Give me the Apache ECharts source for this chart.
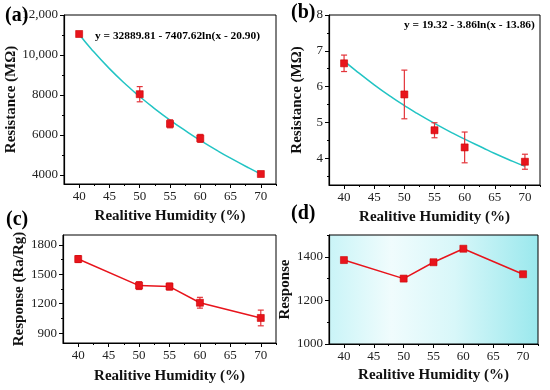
<!DOCTYPE html>
<html>
<head>
<meta charset="utf-8">
<script src="https://cdn.jsdelivr.net/npm/echarts@6/dist/echarts.min.js"></script>
<style>html,body{margin:0;padding:0;background:#fff}#c{width:550px;height:390px}</style>
</head>
<body>
<div id="c"></div>
<script>
// ---- data ----
const humidity = [40, 50, 55, 60, 70];
const xTickLabels = [40, 45, 50, 55, 60, 65, 70];
const xMinorTicks = [42.5, 47.5, 52.5, 57.5, 62.5, 67.5, 72.5];

// (a) resistance (MΩ)
const resistanceA = [11050, 8040, 6560, 5830, 4050];
const errorA = [60, 380, 200, 200, 50];
const fitXA = [40, 42, 45, 48, 50, 52, 55, 58, 60, 63, 65, 68, 70];
const fitYA = [11040, 10302, 9318, 8449, 7921, 7428, 6746, 6122, 5733, 5185, 4841, 4353, 4045];
const yTicksA = [4000, 6000, 8000, 10000, 12000];
const yMinorA = [5000, 7000, 9000, 11000];
const equationA = 'y = 32889.81 - 7407.62ln(x - 20.90)';

// (b) resistance (MΩ)
const resistanceB = [6.65, 5.78, 4.78, 4.30, 3.90];
const errorB = [0.23, 0.68, 0.21, 0.43, 0.21];
const fitXB = [40, 42, 45, 48, 50, 52, 55, 58, 60, 63, 65, 68, 70];
const fitYB = [6.72, 6.44, 6.05, 5.69, 5.47, 5.26, 4.97, 4.70, 4.53, 4.29, 4.13, 3.91, 3.77];
const yTicksB = [4, 5, 6, 7, 8];
const yMinorB = [3.5, 4.5, 5.5, 6.5, 7.5];
const equationB = 'y = 19.32 - 3.86ln(x - 13.86)';

// (c) response (Ra/Rg)
const responseC = [1655, 1385, 1375, 1210, 1055];
const errorC = [35, 40, 35, 55, 80];
const yTicksC = [900, 1200, 1500, 1800];
const yMinorC = [1050, 1350, 1650];

// (d) response
const responseD = [1385, 1300, 1375, 1437, 1320];
const yTicksD = [1000, 1200, 1400];
const yMinorD = [1100, 1300, 1500];

const xTitle = 'Realitive Humidity (%)';

// ---- styling ----
const SERIF = 'Liberation Serif';
const RED = '#e8141c';
const CYAN = '#22c4c4';
const INK = '#111';

const grids = [
  {left: 64, top: 15, width: 212, height: 169},
  {left: 329, top: 15, width: 211, height: 170},
  {left: 63, top: 235, width: 213, height: 108},
  {left: 329, top: 235, width: 209, height: 109,
   backgroundColor: new echarts.graphic.LinearGradient(0, 0, 1, 0, [
     {offset: 0, color: '#c9f4f7'},
     {offset: 0.3, color: '#f0fcfd'},
     {offset: 0.6, color: '#d8f7f9'},
     {offset: 1, color: '#9ae8ed'}
   ])}
].map(g => Object.assign({show: true, borderColor: '#000', borderWidth: 1, backgroundColor: 'transparent'}, g));

const panels = [
  {ymin: 3550, ymax: 12000, ticks: yTicksA, minor: yMinorA, name: 'Resistance (MΩ)', gap: 35,
   fmt: v => v >= 10000 ? String(v).replace(/(\d+)(\d{3})$/, '$1,$2') : String(v)},
  {ymin: 3.25, ymax: 8, ticks: yTicksB, minor: yMinorB, name: 'Resistance (MΩ)', gap: 24, fmt: v => String(v)},
  {ymin: 800, ymax: 1900, ticks: yTicksC, minor: yMinorC, name: 'Response (Ra/Rg)', gap: 34, fmt: v => String(v)},
  {ymin: 1000, ymax: 1500, ticks: yTicksD, minor: yMinorD, name: 'Response', gap: 31, fmt: v => String(v)}
];
const xNameGaps = [25, 25, 26, 24];

const xAxis = [], yAxis = [];
panels.forEach((p, i) => {
  xAxis.push({
    type: 'value', gridIndex: i, min: 37.5, max: 72.5,
    name: xTitle, nameLocation: 'middle', nameGap: xNameGaps[i],
    nameTextStyle: {fontFamily: SERIF, fontWeight: 'bold', fontSize: 15, color: INK},
    axisLine: {show: true, lineStyle: {color: '#000', width: 1.2}},
    axisTick: {show: true, inside: false, length: 4, customValues: xTickLabels, lineStyle: {color: '#000'}},
    axisLabel: {customValues: xTickLabels, margin: 6, fontFamily: SERIF, fontSize: 13, color: '#222'},
    splitLine: {show: false}
  });
  xAxis.push({
    type: 'value', gridIndex: i, min: 37.5, max: 72.5, position: 'bottom',
    axisLine: {show: false},
    axisTick: {show: true, length: 2, customValues: xMinorTicks, lineStyle: {color: '#000'}},
    axisLabel: {show: false}, splitLine: {show: false}
  });
  yAxis.push({
    type: 'value', gridIndex: i, min: p.ymin, max: p.ymax,
    name: p.name, nameLocation: 'middle', nameGap: p.gap, nameRotate: 90,
    nameTextStyle: {fontFamily: SERIF, fontWeight: 'bold', fontSize: 15, color: INK},
    axisLine: {show: true, lineStyle: {color: '#000', width: 1.2}},
    axisTick: {show: true, length: 4, customValues: p.ticks, lineStyle: {color: '#000'}},
    axisLabel: {customValues: p.ticks, formatter: p.fmt, margin: 6, fontFamily: SERIF, fontSize: 13, color: '#222'},
    splitLine: {show: false}
  });
  yAxis.push({
    type: 'value', gridIndex: i, min: p.ymin, max: p.ymax, position: 'left',
    axisLine: {show: false},
    axisTick: {show: true, length: 2, customValues: p.minor, lineStyle: {color: '#000'}},
    axisLabel: {show: false}, splitLine: {show: false}
  });
});

function errorBars(ax, values, errors) {
  return {
    type: 'custom', xAxisIndex: ax, yAxisIndex: ax, z: 3, silent: true,
    data: humidity.map((h, i) => [h, values[i] - errors[i], values[i] + errors[i]]),
    renderItem: (params, api) => {
      const top = api.coord([api.value(0), api.value(2)]);
      const bot = api.coord([api.value(0), api.value(1)]);
      const w = 3;
      const st = {stroke: '#e3343a', lineWidth: 1.2};
      return {type: 'group', children: [
        {type: 'line', shape: {x1: top[0], y1: top[1], x2: bot[0], y2: bot[1]}, style: st},
        {type: 'line', shape: {x1: top[0] - w, y1: top[1], x2: top[0] + w, y2: top[1]}, style: st},
        {type: 'line', shape: {x1: bot[0] - w, y1: bot[1], x2: bot[0] + w, y2: bot[1]}, style: st}
      ]};
    }
  };
}
function points(ax, values, showLine) {
  return {
    type: 'line', xAxisIndex: ax, yAxisIndex: ax, z: 4,
    data: humidity.map((h, i) => [h, values[i]]),
    symbol: 'rect', symbolSize: 7,
    itemStyle: {color: RED, borderColor: '#c00', borderWidth: 0.6},
    lineStyle: showLine ? {color: RED, width: 1.5} : {width: 0, opacity: 0},
    silent: true, animation: false
  };
}
function fit(ax, xs, ys) {
  return {
    type: 'line', xAxisIndex: ax, yAxisIndex: ax, z: 2, smooth: true,
    data: xs.map((x, i) => [x, ys[i]]), showSymbol: false, symbol: 'none',
    lineStyle: {color: CYAN, width: 1.5}, silent: true, animation: false
  };
}

const series = [
  fit(0, fitXA, fitYA), errorBars(0, resistanceA, errorA), points(0, resistanceA, false),
  fit(2, fitXB, fitYB), errorBars(2, resistanceB, errorB), points(2, resistanceB, false),
  errorBars(4, responseC, errorC), points(4, responseC, true),
  points(6, responseD, true)
];

const letter = (t, x, y) => ({type: 'text', left: x, top: y, z: 10,
  style: {text: t, font: 'bold 20px "Liberation Serif"', fill: '#000'}});
const eq = (t, x, y) => ({type: 'text', left: x, top: y, z: 10,
  style: {text: t, font: 'bold 11.4px "Liberation Serif"', fill: '#000'}});

const chart = echarts.init(document.getElementById('c'), null, {renderer: 'canvas'});
chart.setOption({
  animation: false,
  backgroundColor: '#fff',
  grid: grids,
  xAxis, yAxis, series,
  graphic: [
    letter('(a)', 5, 6), letter('(b)', 291, 3), letter('(c)', 6, 210), letter('(d)', 291, 204),
    eq(equationA, 95, 31), eq(equationB, 404, 20)
  ]
});
</script>
</body>
</html>
